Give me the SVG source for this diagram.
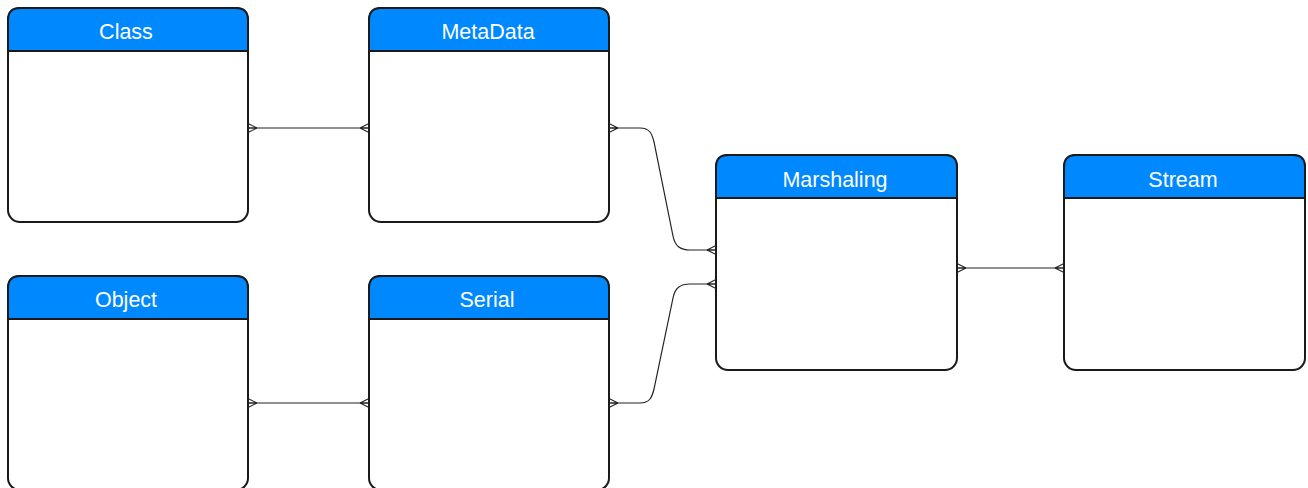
<svg xmlns="http://www.w3.org/2000/svg" width="1308" height="488" viewBox="0 0 1308 488">
<defs>
<style>
.box{fill:#fff;stroke:#1a1a1a;stroke-width:2}
.hd{fill:#0088ff;stroke:#1a1a1a;stroke-width:2}
.t{font-family:"Liberation Sans",Arial,sans-serif;font-size:21.5px;fill:#fff;text-anchor:middle}
.c{fill:none;stroke:#222;stroke-width:1.2}
</style>
<marker id="crow" viewBox="0 0 12 12" refX="10" refY="6" markerWidth="12" markerHeight="12" markerUnits="userSpaceOnUse" orient="auto-start-reverse">
<path d="M1,6 L10,1.5 M1,6 L10,6 M1,6 L10,10.5" fill="none" stroke="#222" stroke-width="1.1"/>
</marker>
</defs>
<g id="class">
<rect class="box" x="8" y="8" width="240" height="214" rx="12"/>
<path class="hd" d="M8,51 L8,20 Q8,8 20,8 L236,8 Q248,8 248,20 L248,51 Z"/>
<text class="t" x="126" y="39">Class</text>
</g>
<g id="metadata">
<rect class="box" x="369" y="8" width="240" height="214" rx="12"/>
<path class="hd" d="M369,51 L369,20 Q369,8 381,8 L597,8 Q609,8 609,20 L609,51 Z"/>
<text class="t" x="488" y="39">MetaData</text>
</g>
<g id="object">
<rect class="box" x="8" y="276" width="240" height="214" rx="12"/>
<path class="hd" d="M8,319 L8,288 Q8,276 20,276 L236,276 Q248,276 248,288 L248,319 Z"/>
<text class="t" x="126" y="307">Object</text>
</g>
<g id="serial">
<rect class="box" x="369" y="276" width="240" height="214" rx="12"/>
<path class="hd" d="M369,319 L369,288 Q369,276 381,276 L597,276 Q609,276 609,288 L609,319 Z"/>
<text class="t" x="487" y="307">Serial</text>
</g>
<g id="marshaling">
<rect class="box" x="716" y="155" width="241" height="215" rx="12"/>
<path class="hd" d="M716,198 L716,167 Q716,155 728,155 L945,155 Q957,155 957,167 L957,198 Z"/>
<text class="t" x="835" y="187">Marshaling</text>
</g>
<g id="stream">
<rect class="box" x="1064" y="155" width="241" height="215" rx="12"/>
<path class="hd" d="M1064,198 L1064,167 Q1064,155 1076,155 L1293,155 Q1305,155 1305,167 L1305,198 Z"/>
<text class="t" x="1183" y="187">Stream</text>
</g>
<g id="connectors">
<path class="c" d="M248,128 L369,128" marker-start="url(#crow)" marker-end="url(#crow)"/>
<path class="c" d="M248,403 L369,403" marker-start="url(#crow)" marker-end="url(#crow)"/>
<path class="c" d="M957,268 L1064,268" marker-start="url(#crow)" marker-end="url(#crow)"/>
<path class="c" d="M609,128 L640,128 C650,128 652,134 654,142 L673,236 C675,246 680,250 690,250 L716,250" marker-start="url(#crow)" marker-end="url(#crow)"/>
<path class="c" d="M609,403 L640,403 C650,403 652,397 654,389 L673,298 C675,288 680,284 690,284 L716,284" marker-start="url(#crow)" marker-end="url(#crow)"/>
</g>
</svg>
